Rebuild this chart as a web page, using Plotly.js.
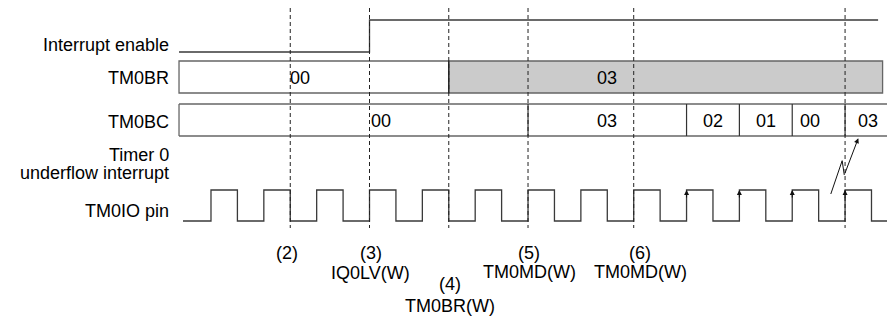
<!DOCTYPE html>
<html><head><meta charset="utf-8">
<script src="https://cdn.plot.ly/plotly-3.0.1.min.js"></script>
<style>html,body{margin:0;padding:0;background:#fff}#chart{width:887px;height:320px}</style>
</head><body><div id="chart"></div>
<script>
// ---- data (time in half clock periods) ----
const clockEdges = [1,2,3,4,5,6,7,8,9,10,11,12,13,14,15,16,17,18,19,20,21,22,23,24,25,26];
const clockStart = -0.06, clockEnd = 26.7;
const ieTimes = [-0.21, 7, 7, 26.25];
const ieLevels = [0, 0, 1, 1];
const tm0brBounds = [-0.21, 10, 26.42];
const tm0brValues = ['00', '03'];
const tm0brLabelT = [4.37, 16.0];
const tm0brShaded = [false, true];
const tm0bcBounds = [-0.21, 13, 19, 21, 23, 25, 26.6];
const tm0bcValues = ['00', '03', '02', '01', '00', '03'];
const tm0bcLabelT = [7.44, 16.0, 20.0, 22.0, 23.67, 25.87];
const eventT = [4, 7, 10, 13, 17, 25];
const eventNums = ['(2)', '(3)', '(4)', '(5)', '(6)'];
const eventNames = ['', 'IQ0LV(W)', 'TM0BR(W)', 'TM0MD(W)', 'TM0MD(W)'];
const eventLabelT = [3.88, 7.05, 10.05, 13.04, 17.24];
const interruptEdgesT = [19, 21, 23, 25];
const underflowT = [24.46, 24.89, 24.97, 25.5];
const underflowY = [194, 160.7, 175, 138.3];
const rowLabels = ['Interrupt enable', 'TM0BR', 'TM0BC', 'Timer 0', 'underflow interrupt', 'TM0IO pin'];

// ---- layout constants (pixel-based y) ----
const W = 887, H = 320;
const xr = [-6.986, 26.587];
const IE_LO = 52, IE_HI = 20;
const BR_T = 61, BR_B = 93;
const BC_T = 104, BC_B = 136;
const CK_LO = 221, CK_HI = 190;
const DASH_T = 8, DASH_B = 228;
const LINE = '#3a3a3a', BOX = '#666666', TXT = '#000000';
const FONT = {family: '"Liberation Sans", Arial, sans-serif', size: 18, color: TXT};

const traces = [];
// clock
const cx = [clockStart], cy = [CK_LO];
let lvl = 0;
clockEdges.forEach(t => { lvl = 1 - lvl; cx.push(t); cy.push(lvl ? CK_HI : CK_LO); });
cx.push(clockEnd); cy.push(lvl ? CK_HI : CK_LO);
traces.push({x: cx, y: cy, mode: 'lines', line: {shape: 'hv', color: LINE, width: 1.3}, hoverinfo: 'skip'});
// interrupt enable
traces.push({x: ieTimes, y: ieLevels.map(v => v ? IE_HI : IE_LO), mode: 'lines', line: {color: LINE, width: 1.3}, hoverinfo: 'skip'});
// underflow zigzag
traces.push({x: underflowT.slice(0, 3), y: underflowY.slice(0, 3), mode: 'lines', line: {color: '#111', width: 1}, hoverinfo: 'skip'});

const shapes = [];
// TM0BR boxes
for (let i = 0; i < tm0brValues.length; i++) {
  shapes.push({type: 'rect', xref: 'x', yref: 'y', x0: tm0brBounds[i], x1: tm0brBounds[i+1], y0: BR_T, y1: BR_B,
    fillcolor: tm0brShaded[i] ? '#cbcbcb' : '#ffffff', line: {color: BOX, width: 1.3}, layer: 'below'});
}
shapes.push({type: 'line', xref: 'x', yref: 'y', x0: tm0brBounds[1], x1: tm0brBounds[1], y0: BR_T, y1: BR_B, line: {color: '#222', width: 1.3}});
// TM0BC open-ended box
const bcEnd = tm0bcBounds[tm0bcBounds.length - 1];
shapes.push({type: 'line', xref: 'x', yref: 'y', x0: tm0bcBounds[0], x1: bcEnd, y0: BC_T, y1: BC_T, line: {color: BOX, width: 1.3}});
shapes.push({type: 'line', xref: 'x', yref: 'y', x0: tm0bcBounds[0], x1: bcEnd, y0: BC_B, y1: BC_B, line: {color: BOX, width: 1.3}});
shapes.push({type: 'line', xref: 'x', yref: 'y', x0: tm0bcBounds[0], x1: tm0bcBounds[0], y0: BC_T, y1: BC_B, line: {color: BOX, width: 1.3}});
for (let i = 1; i < tm0bcBounds.length - 1; i++) {
  shapes.push({type: 'line', xref: 'x', yref: 'y', x0: tm0bcBounds[i], x1: tm0bcBounds[i], y0: BC_T, y1: BC_B, line: {color: '#333', width: 1.2}});
}
// dashed event lines
eventT.forEach(t => shapes.push({type: 'line', xref: 'x', yref: 'y', x0: t, x1: t, y0: DASH_T, y1: DASH_B,
  line: {color: '#222', width: 1, dash: '4px,3px'}}));

const ann = [];
const lbl = (x, y, text, anchor, xref) => ann.push({x, y, xref: xref || 'x', yref: 'y', text, showarrow: false,
  xanchor: anchor || 'center', yanchor: 'middle', font: FONT, borderpad: 0});
// row labels
const rowY = [45, 78, 122, 155, 173, 211];
rowLabels.forEach((t, i) => lbl(170 / W, rowY[i], t, 'right', 'paper'));
// register values
tm0brValues.forEach((v, i) => lbl(tm0brLabelT[i], 78, v));
tm0bcValues.forEach((v, i) => lbl(tm0bcLabelT[i], 121, v));
// event labels
const numY = [253, 253, 284, 253, 253];
const nameY = [0, 273, 306, 272, 272];
eventNums.forEach((n, i) => {
  lbl(eventLabelT[i], numY[i], n);
  if (eventNames[i]) lbl(eventLabelT[i], nameY[i], eventNames[i]);
});
// interrupt arrowheads on rising edges
interruptEdgesT.forEach(t => ann.push({x: t, y: CK_HI, xref: 'x', yref: 'y', ax: 0, ay: 9, showarrow: true,
  arrowhead: 2, arrowsize: 1, arrowwidth: 1, arrowcolor: '#111', standoff: 0, text: ''}));
// underflow arrow
ann.push({x: underflowT[3], y: underflowY[3], ax: underflowT[2], ay: underflowY[2], xref: 'x', yref: 'y', axref: 'x', ayref: 'y',
  showarrow: true, arrowhead: 2, arrowsize: 1, arrowwidth: 1, arrowcolor: '#111', standoff: 0, text: ''});

const layout = {
  width: W, height: H, margin: {l: 0, r: 0, t: 0, b: 0},
  paper_bgcolor: '#fff', plot_bgcolor: '#fff', showlegend: false,
  xaxis: {range: xr, visible: false, fixedrange: true},
  yaxis: {range: [H, 0], visible: false, fixedrange: true},
  shapes, annotations: ann, font: FONT
};
Plotly.newPlot('chart', traces, layout, {staticPlot: true, displayModeBar: false});
</script></body></html>
